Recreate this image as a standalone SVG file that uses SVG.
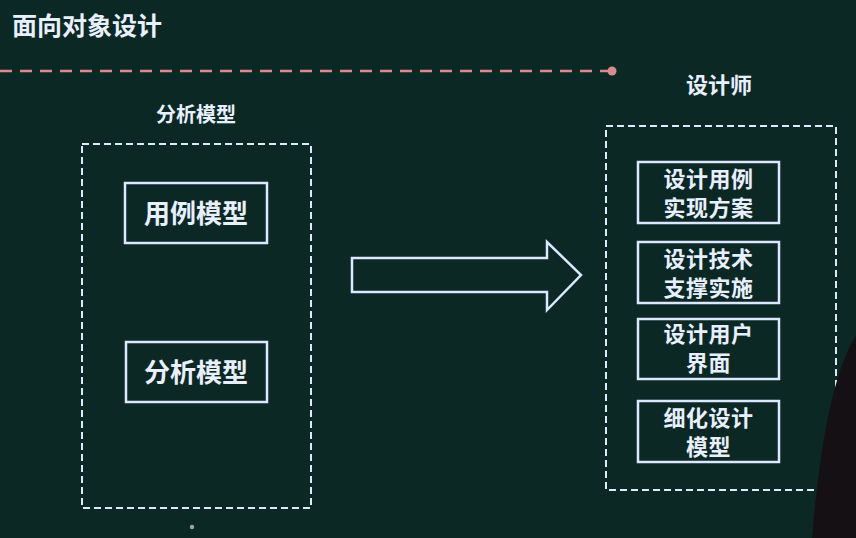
<svg xmlns="http://www.w3.org/2000/svg" width="856" height="538" viewBox="0 0 856 538">
<defs>
<style>
.t{font-family:"Noto Sans CJK SC","Noto Sans",sans-serif;fill:#e8f0ff;font-weight:bold;text-anchor:middle}
.box{fill:none;stroke:#dce8ff;stroke-width:2.5}
.dbox{fill:none;stroke:#dce8ff;stroke-width:2;stroke-dasharray:7 4}
.m{font-size:22px;letter-spacing:0.5px}
</style>
</defs>
<rect x="0" y="0" width="856" height="538" fill="#0c2824"/>
<g id="title">
<text x="12" y="35" class="t" style="text-anchor:start;font-size:25px">面向对象设计</text>
<line x1="0" y1="71" x2="610" y2="71" stroke="#d98c8e" stroke-width="2.5" stroke-dasharray="12 8"/>
<circle cx="612" cy="71" r="4.5" fill="#d98c8e"/>
</g>
<g id="analysis">
<text x="196" y="122" class="t" style="font-size:20px">分析模型</text>
<rect x="82" y="144" width="229" height="364" class="dbox"/>
</g>
<g id="usecase-model">
<rect x="125" y="183" width="142" height="60" class="box"/>
<text x="196" y="223" class="t" style="font-size:26px">用例模型</text>
</g>
<g id="analysis-model">
<rect x="126" y="342" width="141" height="60" class="box"/>
<text x="196" y="382" class="t" style="font-size:26px">分析模型</text>
</g>
<circle cx="192" cy="527" r="2.2" fill="#9aa3a8"/>
<g id="connectors">
<path d="M352,258 L547,258 L547,242 L581,275 L547,310 L547,292 L352,292 Z" class="box"/>
</g>
<g id="designer">
<text x="719" y="93" class="t" style="font-size:22px">设计师</text>
<rect x="606" y="126" width="230" height="364" class="dbox"/>
</g>
<g id="d1">
<rect x="638" y="162" width="141" height="61" class="box"/>
<text x="708.5" y="187" class="t m">设计用例</text>
<text x="708.5" y="216" class="t m">实现方案</text>
</g>
<g id="d2">
<rect x="638" y="242" width="141" height="61" class="box"/>
<text x="708.5" y="267" class="t m">设计技术</text>
<text x="708.5" y="296" class="t m">支撑实施</text>
</g>
<g id="d3">
<rect x="638" y="319" width="141" height="60" class="box"/>
<text x="708.5" y="342" class="t m">设计用户</text>
<text x="708.5" y="371" class="t m">界面</text>
</g>
<g id="d4">
<rect x="638" y="401" width="141" height="61" class="box"/>
<text x="708.5" y="426" class="t m">细化设计</text>
<text x="708.5" y="455" class="t m">模型</text>
</g>
<path d="M856,335 C838,365 822,420 812,538 L856,538 Z" fill="#141014"/>
</svg>
